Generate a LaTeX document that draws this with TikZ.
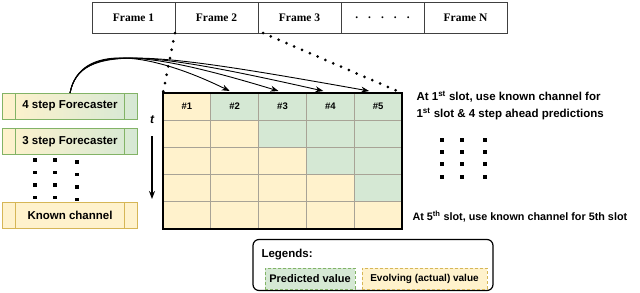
\documentclass[tikz,border=0pt]{standalone}
\usepackage{fontspec}
\setmainfont{Liberation Serif}
\setsansfont{Liberation Sans}
\usetikzlibrary{positioning,arrows.meta}
\definecolor{grnfill}{HTML}{D5E8D4}
\definecolor{grnline}{HTML}{82B366}
\definecolor{yelfill}{HTML}{FFF2CC}
\definecolor{yelline}{HTML}{D6B656}
\definecolor{gridline}{HTML}{A8A396}

\begin{document}
\begin{tikzpicture}[x=1bp,y=-1bp,>={Stealth[length=8bp,width=6bp]},
    lbl/.style={font=\fontsize{11.5bp}{14bp}\selectfont\sffamily\bfseries},
    framebox/.style={draw=black!75,line width=1bp,minimum width=83bp,
        minimum height=31bp,inner sep=0pt,outer sep=0pt,
        font=\fontsize{11.5bp}{14bp}\selectfont\bfseries},
    cell/.style={draw=gridline,line width=0.8bp,minimum width=47.8bp,
        minimum height=27.2bp,inner sep=0pt,outer sep=0pt},
    procbox/.style={lbl,line width=1bp,minimum width=134bp,
        minimum height=26bp,inner sep=0pt,outer sep=0pt},
    legbox/.style={dashed,dash pattern=on 3bp off 2bp,line width=1bp,
        minimum height=21bp,inner sep=0pt,font=\sffamily\bfseries},
    dotline/.style={line width=3bp,line cap=round,dash pattern=on 0pt off 8.5bp}]
    \useasboundingbox (0,0) rectangle (640,292);

    % frames
    \node[framebox] (f1) at (133.5,17.5) {Frame 1};
    \node[framebox,right=0pt of f1] (f2) {Frame 2};
    \node[framebox,right=0pt of f2] (f3) {Frame 3};
    \node[framebox,right=0pt of f3] (f4)
        {.\hspace{10bp}.\hspace{10bp}.\hspace{10bp}.\hspace{10bp}.};
    \node[framebox,right=0pt of f4] (f5) {Frame N};

    % slot table, green above the diagonal
    \foreach \r in {0,...,4}{
        \foreach \c in {1,...,5}{
            \ifnum\c>\numexpr\r+1\relax\def\cellcol{grnfill}\else\def\cellcol{yelfill}\fi
            \node[cell,fill=\cellcol] (c-\r-\c)
                at ({163+47.8*(\c-0.5)},{93+27.2*(\r+0.5)}) {};
        }
    }
    \foreach \c in {1,...,5}{
        \node[font=\fontsize{9.5bp}{11bp}\selectfont\sffamily\bfseries]
            (h\c) at (c-0-\c) {\#\c};
    }
    \draw[line width=1.6bp] (c-0-1.north west) rectangle (c-4-5.south east);

    \draw[dotline] (f1.south east) -- (c-0-1.north west);
    \draw[dotline] ([xshift=5bp]f3.south west) -- (c-0-5.north east);

    % forecasters
    \node[procbox,draw=grnline,left color=yelfill,right color=grnfill]
        (fc4) at (70,106) {4 step Forecaster};
    \node[procbox,draw=grnline,left color=yelfill,right color=grnfill]
        (fc3) at (70,141.5) {3 step Forecaster};
    \node[procbox,draw=yelline,fill=yelfill] (known) at (70,215.5) {Known channel};
    \foreach \b/\col in {fc4/grnline,fc3/grnline,known/yelline}{
        \draw[\col,line width=1bp] ([xshift=13bp]\b.north west) -- ([xshift=13bp]\b.south west);
        \draw[\col,line width=1bp] ([xshift=-13bp]\b.north east) -- ([xshift=-13bp]\b.south east);
    }

    \foreach \x/\dy in {35/0,55/0,77/2}{
        \foreach \y in {160,172.5,185,197.5}{
            \fill (\x-1.6,\y+\dy-1.6) rectangle ++(3.2,3.2);
        }
    }

    \foreach \c/\dx in {2/-5,3/-4,4/-7,5/-9}{
        \draw[->,line width=0.9bp] (fc4.north) .. controls (80,42) and (150,52)
            .. ([xshift=\dx bp,yshift=2bp]c-0-\c.north);
    }

    % time axis
    \node[font=\fontsize{12bp}{14bp}\selectfont\sffamily\bfseries\itshape]
        (tlab) at (152,120) {t};
    \coordinate (tend) at (152,199);
    \draw[->,line width=1.5bp] ([yshift=-9bp]tlab.south) -- (tend);

    % notes
    \node[lbl,anchor=west,align=left] (note1) at (413,105.5)
        {At 1\textsuperscript{st} slot, use known channel for\\[3bp]
         1\textsuperscript{st} slot \& 4 step ahead predictions};
    \foreach \x/\dy in {442/0,462/0,485/0}{
        \foreach \y in {140,152,164,177}{
            \fill (\x-1.6,\y+\dy-1.6) rectangle ++(3.2,3.2);
        }
    }
    \node[lbl,anchor=west,font=\fontsize{10.8bp}{13bp}\selectfont\sffamily\bfseries]
        (note5) at (409,217)
        {At 5\textsuperscript{th} slot, use known channel for 5th slot};

    % legend
    \node[draw,line width=1.2bp,rounded corners=6bp,minimum width=240bp,
        minimum height=51bp] (legend) at (373,265) {};
    \node[lbl,anchor=west] (legtitle) at (258,255) {Legends:};
    \node[legbox,draw=grnline,fill=grnfill,minimum width=90bp,
        font=\fontsize{11bp}{13bp}\selectfont\sffamily\bfseries]
        (legpred) at (310,278.5) {Predicted value};
    \node[legbox,draw=yelline,fill=yelfill,minimum width=125bp,
        font=\fontsize{10bp}{12bp}\selectfont\sffamily\bfseries]
        (legevol) at (424.5,278.5) {Evolving (actual) value};
\end{tikzpicture}
\end{document}
